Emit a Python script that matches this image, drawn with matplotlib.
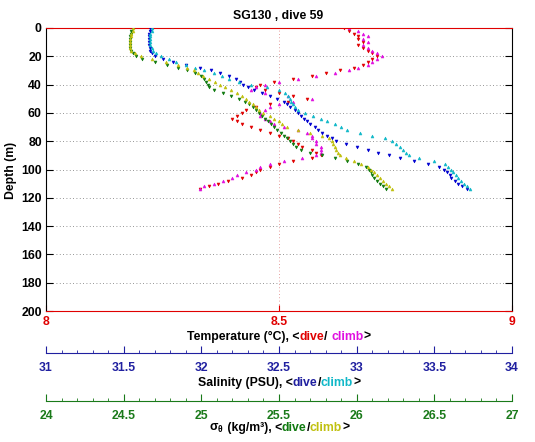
"""SG130 dive 59: temperature / salinity / sigma-theta profiles vs depth."""
import matplotlib
matplotlib.use("Agg")
import matplotlib.pyplot as plt
from matplotlib.ticker import MultipleLocator

plt.rcParams["font.family"] = ["Liberation Sans", "DejaVu Sans"]
plt.rcParams["font.weight"] = "bold"
plt.rcParams["mathtext.fontset"] = "custom"
plt.rcParams["mathtext.rm"] = "Liberation Sans"
plt.rcParams["mathtext.it"] = "Liberation Sans"

# depth (m) of the read samples, shared by all six series
depth = [0, 2, 4, 6, 8, 10, 12, 14, 16, 18, 20, 22, 24, 26, 28, 30, 32, 34, 36, 38,
         40, 42, 44, 46, 48, 50, 52, 54, 56, 58, 60, 62, 64, 66, 68, 70, 72, 74, 76, 78,
         80, 82, 84, 86, 88, 90, 92, 94, 96, 98, 100, 102, 104, 106, 108, 110, 112, 114]

temp_dive = [8.64, 8.65, 8.66, 8.67, 8.67, 8.68, 8.67, 8.68, 8.69, 8.70, 8.71, 8.70, 8.69, 8.68,
             8.66, 8.63, 8.60, 8.57, 8.53, 8.49, 8.46, 8.45, 8.47, 8.50, 8.53, 8.56, 8.52, 8.48,
             8.45, 8.43, 8.42, 8.41, 8.40, 8.41, 8.42, 8.44, 8.46, 8.48, 8.50, 8.52, 8.53, 8.54,
             8.55, 8.57, 8.58, 8.59, 8.57, 8.53, 8.50, 8.48, 8.46, 8.45, 8.44, 8.42, 8.39, 8.37,
             8.35, 8.33]
temp_climb = [8.65, 8.67, 8.68, 8.69, 8.68, 8.69, 8.68, 8.69, 8.70, 8.71, 8.72, 8.71, 8.70, 8.69,
              8.67, 8.65, 8.62, 8.58, 8.54, 8.50, 8.47, 8.45, 8.44, 8.47, 8.52, 8.57, 8.53, 8.50,
              8.48, 8.47, 8.46, 8.46, 8.47, 8.48, 8.49, 8.51, 8.54, 8.56, 8.57, 8.57, 8.58, 8.58,
              8.59, 8.59, 8.59, 8.58, 8.55, 8.51, 8.48, 8.46, 8.45, 8.43, 8.41, 8.40, 8.38, 8.36,
              8.34, 8.33]

sal_dive = [31.67, 31.67, 31.66, 31.66, 31.66, 31.66, 31.66, 31.67, 31.67, 31.68, 31.70, 31.75,
            31.82, 31.90, 31.99, 32.06, 32.12, 32.18, 32.22, 32.25, 32.27, 32.30, 32.34, 32.39,
            32.44, 32.49, 32.53, 32.55, 32.57, 32.60, 32.62, 32.64, 32.66, 32.68, 32.70, 32.73,
            32.75, 32.78, 32.81, 32.84, 32.87, 32.93, 33.00, 33.07, 33.14, 33.21, 33.28, 33.37,
            33.46, 33.53, 33.56, 33.58, 33.60, 33.61, 33.63, 33.65, 33.68, 33.71]
sal_climb = [31.68, 31.68, 31.67, 31.67, 31.67, 31.67, 31.67, 31.68, 31.69, 31.71, 31.74, 31.79,
             31.84, 31.90, 31.96, 32.02, 32.08, 32.13, 32.18, 32.24, 32.32, 32.42, 32.50, 32.54,
             32.56, 32.57, 32.58, 32.59, 32.60, 32.62, 32.67, 32.72, 32.77, 32.81, 32.86, 32.90,
             32.94, 33.02, 33.10, 33.18, 33.23, 33.25, 33.28, 33.30, 33.32, 33.34, 33.40, 33.50,
             33.57, 33.59, 33.61, 33.62, 33.64, 33.65, 33.67, 33.69, 33.71, 33.73]

sig_dive = [24.56, 24.55, 24.55, 24.54, 24.54, 24.54, 24.54, 24.54, 24.55, 24.56, 24.58, 24.62,
            24.70, 24.78, 24.85, 24.91, 24.96, 25.00, 25.02, 25.03, 25.04, 25.05, 25.08, 25.14,
            25.19, 25.24, 25.28, 25.31, 25.33, 25.35, 25.37, 25.39, 25.41, 25.43, 25.45, 25.47,
            25.49, 25.51, 25.53, 25.55, 25.57, 25.59, 25.61, 25.64, 25.70, 25.78, 25.86, 25.94,
            26.01, 26.06, 26.08, 26.09, 26.10, 26.11, 26.13, 26.15, 26.17, 26.19]
sig_climb = [24.56, 24.56, 24.55, 24.55, 24.54, 24.54, 24.54, 24.54, 24.55, 24.57, 24.61, 24.68,
             24.77, 24.85, 24.91, 24.95, 24.98, 25.01, 25.05, 25.09, 25.12, 25.15, 25.19, 25.23,
             25.26, 25.29, 25.31, 25.33, 25.35, 25.37, 25.40, 25.44, 25.47, 25.50, 25.52, 25.55,
             25.62, 25.70, 25.78, 25.82, 25.84, 25.85, 25.86, 25.87, 25.88, 25.89, 25.93, 25.98,
             26.03, 26.07, 26.09, 26.11, 26.13, 26.15, 26.17, 26.19, 26.21, 26.23]

RED, MAG = "#e00000", "#e010e0"
BLUE, CYAN = "#0000d0", "#10b8c8"
GREEN, OLIVE = "#107a10", "#c0c010"
SAL_AX, SIG_AX = "#2020a0", "#1a7a1a"
FS = 8.8

W, H = 535, 442
L, R, T, B = 46, 512, 28, 311          # main axes box in pixels
fig = plt.figure(figsize=(W / 100, H / 100), dpi=100)
ax = fig.add_axes([L / W, 1 - B / H, (R - L) / W, (B - T) / H])

mk = dict(ls="none", markersize=2.1, markeredgewidth=0.4)
ax.plot(temp_dive, depth, marker="v", color=RED, **mk)
ax.plot(temp_climb, depth, marker="^", color=MAG, **mk)
ax.set_xlim(8, 9)
ax.set_ylim(200, 0)
ax.set_xticks([8, 8.5, 9])
ax.xaxis.set_major_formatter(lambda v, p: f"{v:g}")
ax.yaxis.set_major_locator(MultipleLocator(20))
ax.tick_params(axis="x", direction="in", top=True, bottom=True, length=4,
               colors=RED, labelsize=FS, pad=3.5)
ax.tick_params(axis="y", direction="in", left=True, right=True, length=5,
               labelsize=FS, pad=3)
for s in ("top", "bottom"):
    ax.spines[s].set_color(RED)
ax.set_axisbelow(True)
ax.yaxis.grid(True, ls=(0, (1, 3)), color="0.45", lw=0.6)
ax.xaxis.grid(True, ls=(0, (1, 3)), color="#e08080", lw=0.6)

ax_s = ax.twiny()
ax_s.set_xlim(31, 34)
ax_s.plot(sal_dive, depth, marker="v", color=BLUE, **mk)
ax_s.plot(sal_climb, depth, marker="^", color=CYAN, **mk)
ax_s.axis("off")

ax_g = ax.twiny()
ax_g.set_xlim(24, 27)
ax_g.plot(sig_dive, depth, marker="v", color=GREEN, **mk)
ax_g.plot(sig_climb, depth, marker="^", color=OLIVE, **mk)
ax_g.axis("off")


def scale_axis(py, lo, hi, color):
    a = fig.add_axes([L / W, 1 - py / H, (R - L) / W, 0.0001])
    a.set_xlim(lo, hi)
    a.set_yticks([])
    for s in ("left", "right", "top"):
        a.spines[s].set_visible(False)
    a.spines["bottom"].set_color(color)
    a.patch.set_visible(False)
    a.xaxis.set_major_locator(MultipleLocator(0.5))
    a.xaxis.set_minor_locator(MultipleLocator(0.1))
    a.xaxis.set_major_formatter(lambda v, p: f"{v:g}")
    a.tick_params(axis="x", which="major", direction="in", length=5,
                  colors=color, labelsize=FS, pad=6.5)
    a.tick_params(axis="x", which="minor", direction="in", length=2.5, color=color)


scale_axis(353, 31, 34, SAL_AX)
scale_axis(401, 24, 27, SIG_AX)

fig.text(278 / W, 1 - 19 / H, "SG130 , dive 59", ha="center", va="baseline", fontsize=FS)
fig.text(11 / W, 1 - 170 / H, "Depth (m)", rotation=90, ha="center", va="center", fontsize=FS)

renderer = fig.canvas.get_renderer()


def colored_label(py, parts):
    widths = []
    for s, c, w in parts:
        t = fig.text(0, 0, s, fontsize=FS, fontweight=w)
        widths.append(t.get_window_extent(renderer).width)
        t.remove()
    x = (L + R) / 2 - sum(widths) / 2
    for (s, c, w), wd in zip(parts, widths):
        fig.text(x / W, 1 - py / H, s, color=c, fontsize=FS, fontweight=w,
                 ha="left", va="baseline")
        x += wd


colored_label(340, [("Temperature (°C), <", "black", "bold"), ("dive", RED, "bold"),
                    ("/ ", "black", "bold"), ("climb", MAG, "bold"), (">", "black", "bold")])
colored_label(386, [("Salinity (PSU), <", "black", "bold"), ("dive", SAL_AX, "bold"),
                    ("/", "black", "bold"), ("climb", CYAN, "bold"), (">", "black", "bold")])
colored_label(431, [(r"$\sigma_\theta$", "black", "normal"), (" (kg/m³), <", "black", "bold"),
                    ("dive", GREEN, "bold"), ("/", "black", "bold"), ("climb", OLIVE, "bold"),
                    (">", "black", "bold")])

fig.savefig("out.png", dpi=100)
